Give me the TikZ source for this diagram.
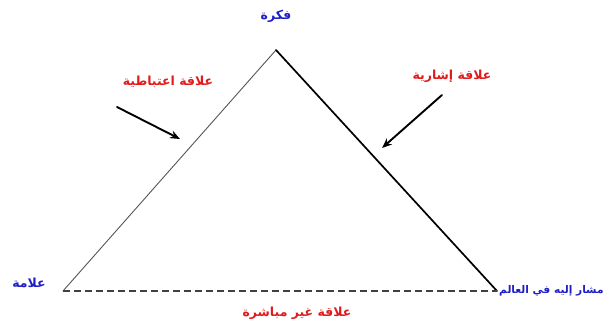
\documentclass[tikz,border=0pt]{standalone}
\usepackage{fontspec}
\usepackage{xcolor}
\usepackage{tikz}
\usetikzlibrary{arrows.meta,positioning}
\TeXXeTstate=1
\newfontfamily\arabicfont[Script=Arabic,BoldFont={DejaVu Sans Bold}]{DejaVu Sans}
\definecolor{termblue}{HTML}{1F1FC8}
\definecolor{relred}{HTML}{E01B1B}
\definecolor{sideline}{HTML}{555555}
\tikzset{
    every picture/.style={line cap=round,line join=round},
    termlabel/.style={text=termblue,font=\arabicfont\bfseries\fontsize{12.5}{14}\selectfont,inner sep=1pt},
    rellabel/.style={text=relred,font=\arabicfont\bfseries\fontsize{12.5}{14}\selectfont,inner sep=1pt},
    thinside/.style={draw=sideline,line width=0.9pt},
    thickside/.style={draw=black,line width=1.7pt},
    baseline/.style={draw=black!75,line width=1.6pt,dash pattern=on 7pt off 4pt,line cap=butt},
    pointer/.style={-{Stealth[length=10pt,width=8pt]},draw=black,line width=1.9pt}
}
\begin{document}
\begin{tikzpicture}[x=1pt,y=-1pt]
  \useasboundingbox (0,0) rectangle (611,329);
  % corners of the triangle
  \coordinate (idea) at (276,50);
  \coordinate (sign) at (63,291);
  \coordinate (referent) at (497,291);
  \draw[thinside] (sign) -- (idea);
  \draw[thickside] (idea) -- (referent);
  \draw[baseline] (sign) -- (referent);
  % terms
  \node[termlabel] (ideaname) at (276,16) {\beginR فكرة\endR};
  \node[termlabel] (signname) at (29,283) {\beginR علامة\endR};
  \node[termlabel,font=\arabicfont\bfseries\fontsize{10.6}{12}\selectfont,
    right=2pt of referent,inner sep=0pt] (refname) {\beginR مشار إليه في العالم\endR};
  % relations
  \node[rellabel] (arbitrary) at (168,82) {\beginR علاقة اعتباطية\endR};
  \node[rellabel] (referential) at (452,76) {\beginR علاقة إشارية\endR};
  \node[rellabel] (indirect) at (297,313) {\beginR علاقة غير مباشرة\endR};
  \coordinate (arbfrom) at (117,107);
  \coordinate (arbto) at (180,139);
  \coordinate (reffrom) at (442,95);
  \coordinate (refto) at (382,148);
  \draw[pointer] (arbfrom) -- (arbto);
  \draw[pointer] (reffrom) -- (refto);
\end{tikzpicture}
\end{document}
